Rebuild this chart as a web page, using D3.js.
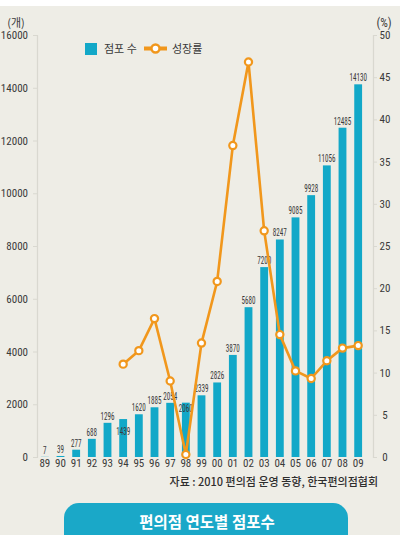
<!DOCTYPE html>
<html><head><meta charset="utf-8">
<script src="https://cdn.jsdelivr.net/npm/d3@7/dist/d3.min.js"></script>
<style>
html,body{margin:0;padding:0;background:#fff;}
svg{display:block;}
.num{font-family:"Liberation Sans Narrow","Roboto Condensed","DejaVu Sans Condensed",sans-serif;}
.kr{font-family:"Noto Sans CJK KR","Noto Sans",sans-serif;}
</style></head>
<body><svg id="c" width="400" height="544"></svg>
<script>
const years = ["89","90","91","92","93","94","95","96","97","98","99","00","01","02","03","04","05","06","07","08","09"];
const stores = [7,39,277,688,1296,1439,1620,1885,2054,2060,2339,2826,3870,5680,7200,8247,9085,9928,11056,12485,14130];
const growthYears = ["94","95","96","97","98","99","00","01","02","03","04","05","06","07","08","09"];
const growth = [11.0,12.6,16.4,9.0,0.3,13.5,20.8,36.9,46.8,26.8,14.5,10.2,9.3,11.4,12.9,13.2];
const leftTicks = [0,2000,4000,6000,8000,10000,12000,14000,16000];
const rightTicks = [0,5,10,15,20,25,30,35,40,45,50];
const seriesNames = ["점포 수","성장률"];
const unitLeft = "(개)", unitRight = "(%)";
const sourceText = "자료 : 2010 편의점 운영 동향, 한국편의점협회";
const titleText = "편의점 연도별 점포수";

const BAR = "#12a8c8", ORANGE = "#f1971c", BG = "#eeede6", TXT = "#3a3a3a";
const svg = d3.select("#c");

svg.append("rect").attr("x",0).attr("y",6).attr("width",400).attr("height",529).attr("fill",BG);

const x = d3.scaleBand().domain(years).range([37,366]).paddingInner(0.5).paddingOuter(0.25);
const yL = d3.scaleLinear().domain([0,16000]).range([457,35]);
const yR = d3.scaleLinear().domain([0,50]).range([457,35]);

// axes
const axL = svg.append("g").attr("transform","translate(37,0)")
  .call(d3.axisLeft(yL).tickValues(leftTicks).tickSize(4).tickPadding(5).tickFormat(d3.format("d")));
const axR = svg.append("g").attr("transform","translate(373,0)")
  .call(d3.axisRight(yR).tickValues(rightTicks).tickSize(4).tickPadding(6));
[axL,axR].forEach(a=>{
  a.select(".domain").attr("stroke","#d9d8d0").attr("stroke-width",1.2);
  a.selectAll(".tick line").attr("stroke","#d9d8d0");
  a.selectAll("text").attr("class","num").attr("fill",TXT).style("font-size","11px");
});
axR.selectAll("text").attr("text-anchor","middle").attr("x",12);

const axB = svg.append("g").attr("transform","translate(0,457)")
  .call(d3.axisBottom(x).tickSize(0).tickPadding(2));
axB.select(".domain").remove();
axB.selectAll("text").attr("class","num").attr("fill",TXT).style("font-size","11px");

// bars
svg.append("g").selectAll("rect").data(stores).join("rect")
  .attr("x",(d,i)=>x(years[i])).attr("width",x.bandwidth())
  .attr("y",d=>yL(d)).attr("height",d=>yL(0)-yL(d)).attr("fill",BAR);

// bar labels (tall, narrow digits as in the original)
const lowered = {"94":19, "98":12};
svg.append("g").selectAll("text").data(stores).join("text")
  .attr("class","num").attr("fill",TXT).style("font-size","10.5px")
  .attr("text-anchor","middle")
  .attr("textLength",d=>String(d).length*3.5).attr("lengthAdjust","spacingAndGlyphs")
  .attr("x",(d,i)=>x(years[i])+x.bandwidth()/2)
  .attr("y",(d,i)=>yL(d)-3+(lowered[years[i]]||0))
  .text(d=>d);

// growth line
const cx = y => x(y)+x.bandwidth()/2;
const line = d3.line().x((d,i)=>cx(growthYears[i])).y(d=>yR(d));
svg.append("path").datum(growth).attr("d",line).attr("fill","none")
  .attr("stroke",ORANGE).attr("stroke-width",2.6).attr("stroke-linejoin","round");
svg.append("g").selectAll("circle").data(growth).join("circle")
  .attr("cx",(d,i)=>cx(growthYears[i])).attr("cy",d=>yR(d)).attr("r",3.6)
  .attr("fill","#fff").attr("stroke",ORANGE).attr("stroke-width",2.2);

// legend
const lg = svg.append("g");
lg.append("rect").attr("x",85).attr("y",43).attr("width",12).attr("height",12).attr("fill",BAR);
lg.append("text").attr("class","kr").attr("x",104).attr("y",53).attr("fill",TXT)
  .style("font-size","11px").text(seriesNames[0]);
lg.append("line").attr("x1",144).attr("x2",167).attr("y1",48.5).attr("y2",48.5)
  .attr("stroke",ORANGE).attr("stroke-width",4);
lg.append("circle").attr("cx",155.5).attr("cy",48.5).attr("r",4).attr("fill","#fff")
  .attr("stroke",ORANGE).attr("stroke-width",2.4);
lg.append("text").attr("class","kr").attr("x",172).attr("y",53).attr("fill",TXT)
  .style("font-size","11px").text(seriesNames[1]);

// units
svg.append("text").attr("class","kr").attr("x",16).attr("y",27).attr("text-anchor","middle")
  .attr("fill",TXT).style("font-size","11px").text(unitLeft);
svg.append("text").attr("class","num").attr("x",384).attr("y",27).attr("text-anchor","middle")
  .attr("fill",TXT).style("font-size","12px").text(unitRight);

// source
svg.append("text").attr("class","kr").attr("x",378).attr("y",486).attr("text-anchor","end")
  .attr("fill","#2e2e2e").style("font-size","11px").style("font-weight","500").text(sourceText);

// title banner
const r = 15, bx0 = 64, bx1 = 348, by0 = 503, by1 = 535;
const p = d3.path();
p.moveTo(bx0,by1); p.lineTo(bx0,by0+r); p.arcTo(bx0,by0,bx0+r,by0,r);
p.lineTo(bx1-r,by0); p.arcTo(bx1,by0,bx1,by0+r,r); p.lineTo(bx1,by1); p.closePath();
svg.append("path").attr("d",p.toString()).attr("fill","#1aa8c8");
svg.append("text").attr("class","kr").attr("x",207).attr("y",528).attr("text-anchor","middle")
  .attr("fill","#fff").style("font-size","15.5px").style("font-weight","700").text(titleText);
</script></body></html>
